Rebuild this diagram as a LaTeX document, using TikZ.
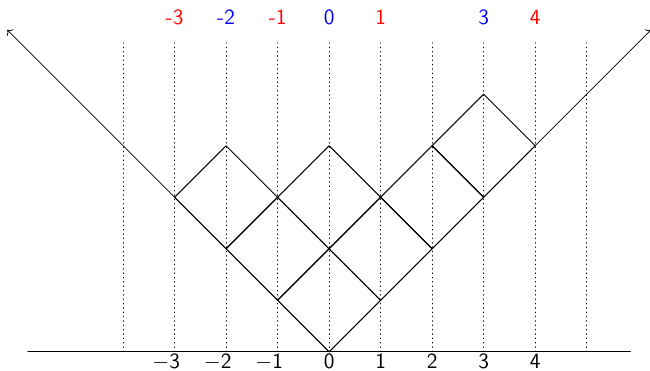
\documentclass[tikz,border=0pt]{standalone}
\usepackage{amsmath,amssymb}
\usetikzlibrary{arrows.meta}
\tikzset{
  every picture/.style={line join=round, line cap=round},
  cell/.style={line width=0.5pt},
  guide/.style={dotted, line width=0.4pt},
  content/.style={font=\large\sffamily},
  tick label/.style={anchor=north, inner sep=0pt, font=\large},
}

\begin{document}
\begin{tikzpicture}
\useasboundingbox (-6.39,-0.37) rectangle (6.23,6.83);
% axis with dotted guides
\coordinate (axl) at (-5.85,0);
\coordinate (axr) at (5.85,0);
\draw (axl)--(axr);
\foreach \t in {-4,...,5}{\draw[guide] (\t,0)--(\t,6);}
\foreach \t [count=\i] in {3,2,1}{\node[tick label] (neg\i) at (-\t,-0.05) {\llap{$-$}$\mathsf{\t}$};}
\foreach \t in {0,...,4}{\node[tick label] (pos\t) at (\t,-0.05) {$\mathsf{\t}$};}
% contents on top
\foreach \t/\c [count=\i] in {-3/red,-2/blue,-1/red,0/blue,1/red,3/blue,4/red}{
  \node[content,text=\c] (top\i) at (\t,6.5) {\t};
}
% the two arms
\coordinate (o) at (0,0);
\coordinate (al) at (-6.25,6.25);
\coordinate (ar) at (6.25,6.25);
\draw[->] (o)--(al);
\draw[->] (o)--(ar);
% cells
\foreach \x/\y in {0/0,1/1,2/2,3/3,-1/1,0/2,-2/2}{
  \draw[cell] (\x,\y)--++(1,1)--++(-1,1)--++(-1,-1)--cycle;
}
\end{tikzpicture}
\end{document}
